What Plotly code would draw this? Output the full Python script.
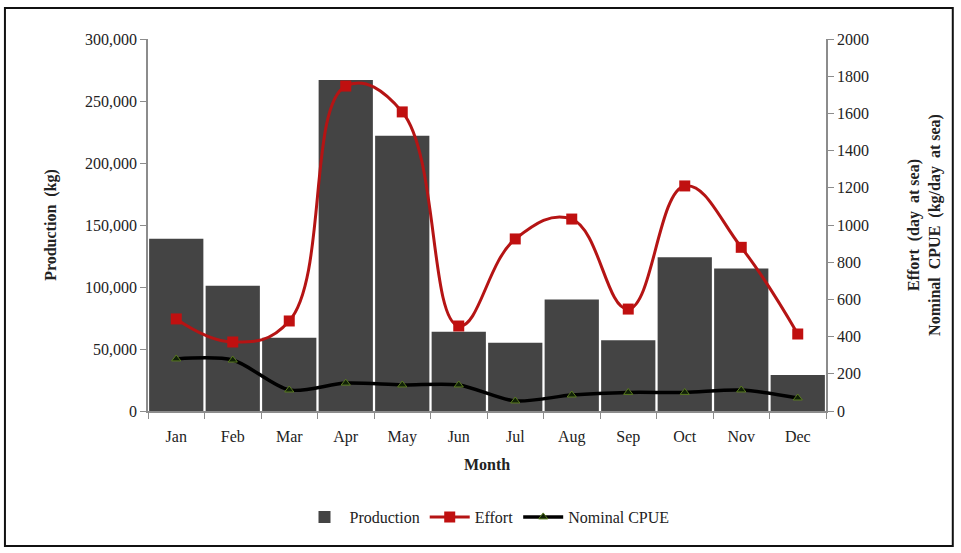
import plotly.graph_objects as go

months = ["Jan", "Feb", "Mar", "Apr", "May", "Jun", "Jul", "Aug", "Sep", "Oct", "Nov", "Dec"]
production = [139000, 101000, 59000, 267000, 222000, 64000, 55000, 90000, 57000, 124000, 115000, 29000]
effort = [495, 371, 484, 1747, 1608, 457, 925, 1032, 548, 1210, 880, 414]
cpue = [280, 274, 113, 150, 140, 140, 54, 86, 100, 100, 113, 70]

left_ticks = [0, 50000, 100000, 150000, 200000, 250000, 300000]
left_labels = ["0", "50,000", "100,000", "150,000", "200,000", "250,000", "300,000"]
right_ticks = list(range(0, 2001, 200))

FONT = "Liberation Serif"

fig = go.Figure()
fig.add_trace(go.Bar(
    x=months, y=production, name="Production",
    marker=dict(color="#444444", line=dict(width=0)),
))
fig.add_trace(go.Scatter(
    x=months, y=effort, name="Effort", yaxis="y2",
    mode="lines+markers",
    line=dict(color="#b51414", width=3, shape="spline", smoothing=1.2),
    marker=dict(symbol="square", size=11, color="#c01010"),
))
fig.add_trace(go.Scatter(
    x=months, y=cpue, name="Nominal CPUE", yaxis="y2",
    mode="lines+markers",
    line=dict(color="#000000", width=3.5, shape="spline", smoothing=0.8),
    marker=dict(symbol="triangle-up", size=8, color="#102008",
                line=dict(color="#5a7a20", width=1)),
))

axis_line = "#8c8c8c"
fig.update_layout(
    width=961, height=553,
    margin=dict(l=148, r=135, t=39, b=142),
    paper_bgcolor="white", plot_bgcolor="white",
    font=dict(family=FONT, size=16, color="#222222"),
    bargap=0.04,
    showlegend=True,
    legend=dict(orientation="h", x=0.5, xanchor="center", y=-0.285, yanchor="middle",
                font=dict(family=FONT, size=16), itemwidth=40, traceorder="normal"),
    xaxis=dict(
        title=dict(text="<b>Month</b>", font=dict(family=FONT, size=16), standoff=14),
        range=[-0.5, 11.5],
        showline=True, linecolor=axis_line, linewidth=1.5,
        ticks="outside", tickson="boundaries", ticklen=6, tickcolor=axis_line,
        ticklabelstandoff=10,
        showgrid=False, tickfont=dict(family=FONT, size=16),
    ),
    yaxis=dict(
        title=dict(text="<b>Production  (kg)</b>", font=dict(family=FONT, size=16), standoff=24),
        range=[0, 300000], tickvals=left_ticks, ticktext=left_labels,
        showline=True, linecolor=axis_line, linewidth=1.5,
        ticks="outside", ticklen=6, tickcolor=axis_line,
        showgrid=False, zeroline=False, tickfont=dict(family=FONT, size=16),
    ),
    yaxis2=dict(
        title=dict(text="<b>Effort  (day  at sea)<br>Nominal  CPUE  (kg/day  at sea)</b>",
                   font=dict(family=FONT, size=16), standoff=40),
        overlaying="y", side="right",
        range=[0, 2000], tickvals=right_ticks,
        showline=True, linecolor=axis_line, linewidth=1.5,
        ticks="outside", ticklen=6, tickcolor=axis_line,
        showgrid=False, zeroline=False, tickfont=dict(family=FONT, size=16),
    ),
)

# outer frame around the whole chart
fig.add_shape(type="rect", xref="paper", yref="paper",
              x0=-0.211, x1=1.187, y0=-0.363, y1=1.083,
              line=dict(color="#111111", width=2), layer="below")

fig.write_html("out.html")
